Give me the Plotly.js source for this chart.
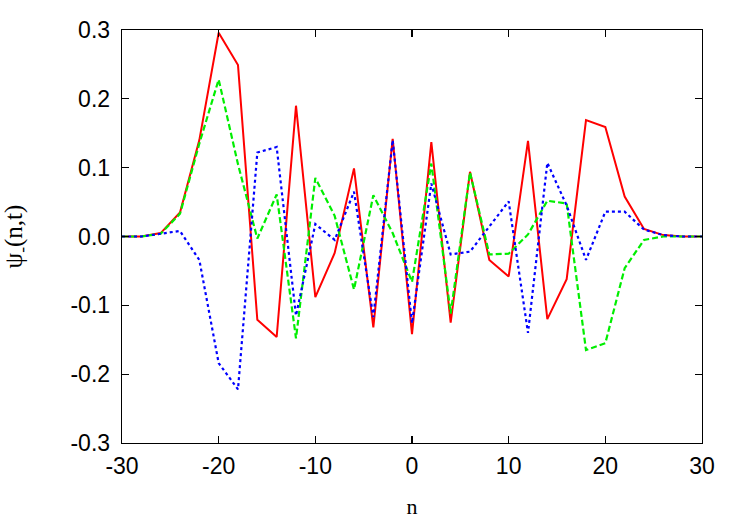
<!DOCTYPE html>
<html>
<head>
<meta charset="utf-8">
<script src="https://cdn.plot.ly/plotly-3.0.1.min.js"></script>
<style>html,body{margin:0;padding:0;background:#fff;}#chart{width:747px;height:523px;}</style>
</head>
<body>
<div id="chart"></div>
<script>
var n = [-30,-28,-26,-24,-22,-20,-18,-16,-14,-12,-10,-8,-6,-4,-2,0,2,4,6,8,10,12,14,16,18,20,22,24,26,28,30];
var psiRed = [0,0,0.005,0.035,0.14,0.296,0.249,-0.121,-0.146,0.19,-0.088,-0.024,0.099,-0.132,0.142,-0.142,0.137,-0.125,0.094,-0.034,-0.058,0.139,-0.12,-0.062,0.169,0.159,0.058,0.011,0.002,0,0];
var psiGreen = [0,0,0.004,0.033,0.135,0.228,0.105,-0.003,0.061,-0.148,0.085,0.03,-0.077,0.06,0.005,-0.066,0.106,-0.112,0.093,-0.026,-0.025,0.003,0.052,0.048,-0.165,-0.155,-0.046,-0.005,0,0,0];
var psiBlue = [0,0,0.004,0.008,-0.034,-0.184,-0.222,0.122,0.13,-0.115,0.018,-0.005,0.065,-0.117,0.14,-0.126,0.077,-0.026,-0.022,0.015,0.051,-0.14,0.107,0.045,-0.034,0.036,0.036,0.01,0.002,0,0];
var xTicks = [-30,-20,-10,0,10,20,30];
var yTicks = [-0.3,-0.2,-0.1,0,0.1,0.2,0.3];
var yTickText = ['-0.3','-0.2','-0.1','0.0','0.1','0.2','0.3'];

var traces = [
  {x:n, y:psiRed, mode:'lines', line:{color:'#ff0000', width:2}, name:'r'},
  {x:n, y:psiGreen, mode:'lines', line:{color:'#00ee00', width:2.2, dash:'6px,3px'}, name:'g'},
  {x:n, y:psiBlue, mode:'lines', line:{color:'#0000ff', width:2.2, dash:'dot'}, name:'b'}
];
var axisCommon = {
  showgrid:false, zeroline:false, showline:true, linecolor:'#000', linewidth:1.3, mirror:'ticks',
  ticks:'inside', ticklen:7, tickcolor:'#000', tickwidth:1.3,
  tickfont:{family:'Liberation Sans, Arial, sans-serif', size:23, color:'#000'}
};
var layout = {
  width:747, height:523,
  margin:{l:122, r:45, t:30, b:80},
  paper_bgcolor:'#fff', plot_bgcolor:'#fff',
  showlegend:false,
  xaxis: Object.assign({}, axisCommon, {
    range:[-30,30], tickvals:xTicks, ticktext:xTicks.map(String), ticklabelstandoff:2,
    title:{text:'n', font:{family:'Liberation Serif, Times New Roman, serif', size:22, color:'#000'}, standoff:20}
  }),
  yaxis: Object.assign({}, axisCommon, {
    range:[-0.3,0.3], tickvals:yTicks, ticktext:yTickText, ticklabelstandoff:6,
    title:{text:'ψ<sub>-</sub>(n,t)', font:{family:'Liberation Serif, Times New Roman, serif', size:25, color:'#000'}, standoff:40}
  })
};
Plotly.newPlot('chart', traces, layout, {displayModeBar:false, staticPlot:true});
</script>
</body>
</html>
